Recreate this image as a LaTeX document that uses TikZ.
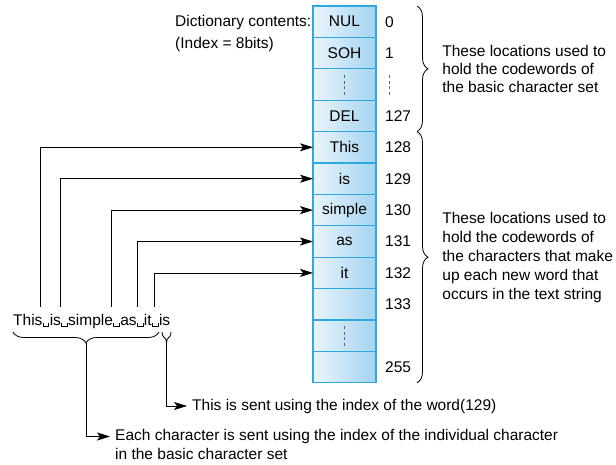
\documentclass[tikz,border=0pt]{standalone}
\usepackage{fontspec}
\setmainfont{Liberation Sans}
\usetikzlibrary{positioning,arrows.meta,decorations.pathreplacing}

\definecolor{celledge}{HTML}{2EA9DF}
\definecolor{celllight}{HTML}{EAF5FC}
\definecolor{celldark}{HTML}{A3D3F0}

% small bracket that stands for a space in the text string
\newcommand{\vspc}{\makebox[0.47em]{\rule[-0.12em]{0.06em}{0.22em}\rule[-0.12em]{0.3em}{0.06em}\rule[-0.12em]{0.06em}{0.22em}}}

\tikzset{
  cell/.style={draw=celledge, line width=1.2pt, left color=celllight, right color=celldark,
    minimum width=63pt, minimum height=31.4pt, inner sep=0pt, outer sep=0pt},
  idx/.style={inner sep=0pt},
  note/.style={align=left, inner sep=0pt},
  ptr/.style={-{Stealth[length=13pt,width=8pt,inset=3pt]}, line width=0.8pt},
  brc/.style={decorate, decoration={brace, amplitude=11pt}, line width=0.8pt},
  gap/.style={dash pattern=on 3pt off 2.5pt, line width=0.8pt, black!60}
}

\begin{document}
\begin{tikzpicture}[x=1pt, y=-1pt, font=\fontsize{15.5}{19}\selectfont]
\useasboundingbox (0,0) rectangle (616,464);

% dictionary table
\node[cell] (c0) at (344.5,21.7) {NUL};
\node[cell, below=0pt of c0] (c1) {SOH};
\node[cell, below=0pt of c1] (c2) {};
\node[cell, below=0pt of c2] (c3) {DEL};
\node[cell, below=0pt of c3] (c4) {This};
\node[cell, below=0pt of c4] (c5) {is};
\node[cell, below=0pt of c5] (c6) {simple};
\node[cell, below=0pt of c6] (c7) {as};
\node[cell, below=0pt of c7] (c8) {it};
\node[cell, below=0pt of c8] (c9) {};
\node[cell, below=0pt of c9] (c10) {};
\node[cell, below=0pt of c10] (c11) {};
\draw[gap] ([yshift=-10pt]c2.center) -- ([yshift=10pt]c2.center);
\draw[gap] ([yshift=-10pt]c10.center) -- ([yshift=10pt]c10.center);

% index values
\node[idx, right=9pt of c0] (i0) {0};
\node[idx, right=9pt of c1] (i1) {1};
\draw[gap] ([xshift=13pt,yshift=-10pt]c2.east) -- ([xshift=13pt,yshift=10pt]c2.east);
\node[idx, right=9pt of c3] (i127) {127};
\node[idx, right=9pt of c4] (i128) {128};
\node[idx, right=9pt of c5] (i129) {129};
\node[idx, right=9pt of c6] (i130) {130};
\node[idx, right=9pt of c7] (i131) {131};
\node[idx, right=9pt of c8] (i132) {132};
\node[idx, right=9pt of c9] (i133) {133};
\node[idx, right=9pt of c11] (i255) {255};

\node[note, anchor=north west] (dictlabel) at (175,15) {Dictionary contents:\\[3pt](Index = 8bits)};

% braces on the right
\draw[brc] ([xshift=41pt]c0.north east) -- node[note, right=25pt] (basicnote)
  {These locations used to\\[-1pt]hold the codewords of\\[-1pt]the basic character set} ([xshift=41pt]c3.south east);
\draw[brc] ([xshift=41pt]c4.north east) -- node[note, right=25pt] (wordsnote)
  {These locations used to\\hold the codewords of\\the characters that make\\up each new word that\\occurs in the text string} ([xshift=41pt]c11.south east);

% text string and its pointers
\node[note, anchor=base west] (phrase) at (13,325) {This\vspc is\vspc simple\vspc as\vspc it\vspc is};
\coordinate (wThis) at (40,307);
\coordinate (wIs) at (60,307);
\coordinate (wSimple) at (111,307);
\coordinate (wAs) at (137,307);
\coordinate (wIt) at (154,307);
\draw[ptr] (wThis) |- (c4.west);
\draw[ptr] (wIs) |- (c5.west);
\draw[ptr] (wSimple) |- (c6.west);
\draw[ptr] (wAs) |- (c7.west);
\draw[ptr] (wIt) |- (c8.west);

\draw[brc] (159,332) -- (13,332);
\draw[brc] (171,332) -- (162,332);
\coordinate (chartip) at (86,343);
\coordinate (wordtip) at (166.5,343);

\node[note, anchor=west, inner xsep=5pt] (wordnote) at (187,406) {This is sent using the index of the word(129)};
\node[note, anchor=base west] (charnote) at (115,440.5) {Each character is sent using the index of the individual character};
\node[note, anchor=base west] (charnote2) at (115,459.5) {in the basic character set};
\draw[ptr] (wordtip) |- (wordnote.west);
\draw[ptr] (chartip) |- ([xshift=-5pt]charnote.west);
\end{tikzpicture}
\end{document}
